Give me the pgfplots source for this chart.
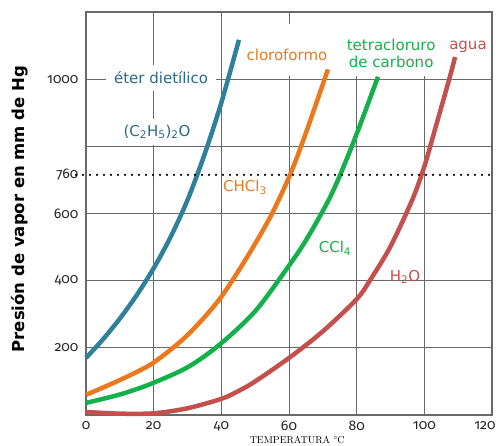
\documentclass[border=0pt]{standalone}
\usepackage{fontspec}
\usepackage{pgfplots}
\pgfplotsset{compat=1.18}
\newfontfamily\dv{DejaVu Sans}
\newfontfamily\tickfont[Numbers=OldStyle]{Fira Sans}
\definecolor{cteal}{RGB}{47,128,155}
\definecolor{tteal}{RGB}{42,106,132}
\definecolor{corange}{RGB}{236,120,30}
\definecolor{cgreen}{RGB}{20,176,75}
\definecolor{cred}{RGB}{196,80,78}
\definecolor{gridc}{RGB}{105,105,105}

\pgfplotstableread{
x y
0 170
5 225
10 287
15 357
20 437
25 530
30 640
35 775
40 930
45.2 1117
}\ether
\pgfplotstableread{
x y
0 60
10 104
18.9 149
25.7 200
30 238
35 291
40 352
45 428
50 510
55 600
60.3 715
65 840
71.5 1029
}\chloro
\pgfplotstableread{
x y
0 36
10 61
19 92
30 142
39.3 208
50 309
60 445
65 520
71.2 630
75 712
80 837
86.3 1007
}\ccl
\pgfplotstableread{
x y
0 9
10 4
20 5
30 20
40 48
45 71
50 100
60.3 172
70.1 250
80.1 346
84 402
89.9 500
96.4 640
100 740
103 845
107.3 998
109.1 1066
}\water

\begin{document}
\begin{tikzpicture}
\begin{axis}[
  name=ax,
  width=406pt, height=403pt, scale only axis,
  xmin=0, xmax=120, ymin=0, ymax=1200,
  xtick={0,20,...,120},
  xticklabels={0,20,40,60,80,100,{\hspace*{-14pt}120}},
  ytick={200,400,600,800,1000},
  yticklabels={200,400,600,,1000},
  extra y ticks={715},
  extra y tick labels={760},
  extra y tick style={grid=none},
  grid=major,
  grid style={color=gridc, line width=1pt},
  axis line style={color=gridc, line width=1.3pt},
  major tick length=0pt,
  /pgf/number format/assume math mode=true,
  tick label style={font=\tickfont\fontsize{14}{14}\selectfont, text=black!85},
  yticklabel style={xshift=-4pt},
  xticklabel style={inner sep=1pt, yshift=-5pt},
  xlabel={TEMPERATURA °C},
  xlabel style={at={(axis description cs:0.52,-0.0535)}, anchor=north, inner sep=0pt, font=\fontsize{10}{10}\selectfont\addfontfeature{LetterSpace=3}},
  ylabel={Presión de vapor en mm de Hg},
  ylabel style={at={(axis description cs:-0.1626,0.511)}, anchor=center, font=\dv\bfseries\fontsize{16.5}{16.5}\selectfont},
  clip=false,
]
% label backgrounds covering grid
\fill[white] (axis cs:63.3,1009) rectangle (axis cs:118.8,1196);
\fill[white] (axis cs:43.5,1009) rectangle (axis cs:63.3,1164);
\node[fill=white, inner xsep=8pt, inner ysep=7pt, text=tteal, font=\dv\fontsize{15}{15}\selectfont] at (axis cs:22.2,1004) {éter dietílico};
\node[fill=white, inner xsep=4pt, inner ysep=6pt, text=tteal, font=\dv\fontsize{15}{15}\selectfont] at (axis cs:21.0,843) {(C\textsubscript{2}H\textsubscript{5})\textsubscript{2}O};

\addplot[cteal, line width=4.5pt, smooth] table {\ether};
\addplot[corange, line width=4.5pt, smooth] table {\chloro};
\addplot[cgreen, line width=4.5pt, smooth] table {\ccl};
\addplot[cred, line width=4.5pt, smooth] table {\water};

\addplot[black, line width=2.3pt, line cap=round, dash pattern=on 0pt off 7pt] coordinates {(-2.96,715) (120.5,715)};

\node[text=corange, font=\dv\fontsize{15}{15}\selectfont] at (axis cs:59.4,1072) {cloroformo};
\node[text=cgreen, align=center, font=\dv\fontsize{15}{17}\selectfont] at (axis cs:90.2,1076) {tetracloruro\\de carbono};
\node[text=cred, font=\dv\fontsize{15}{15}\selectfont] at (axis cs:112.9,1096) {agua};
\node[text=corange, font=\dv\fontsize{15}{15}\selectfont] at (axis cs:47.0,679) {CHCl\textsubscript{3}};
\node[text=cgreen, font=\dv\fontsize{15}{15}\selectfont] at (axis cs:73.6,497) {CCl\textsubscript{4}};
\node[text=cred, font=\dv\fontsize{15}{15}\selectfont] at (axis cs:94.3,411) {H\textsubscript{2}O};
\end{axis}
\pgfresetboundingbox
\path[use as bounding box] ([shift={(-86pt,-31pt)}]ax.south west) rectangle ([shift={(4pt,12pt)}]ax.north east);
\end{tikzpicture}
\end{document}
